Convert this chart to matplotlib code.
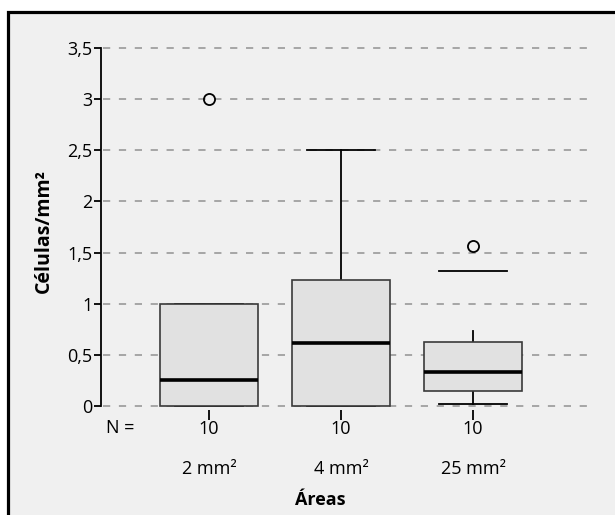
import matplotlib.pyplot as plt
from matplotlib.patches import Rectangle
from matplotlib.transforms import blended_transform_factory

plt.rcParams["font.family"] = ["Open Sans", "DejaVu Sans"]

# box summaries
areas = ["2 mm²", "4 mm²", "25 mm²"]
counts = [10, 10, 10]
q1 = [0.0, 0.0, 0.15]
medians = [0.25, 0.62, 0.335]
q3 = [1.0, 1.235, 0.63]
whisker_lo = [0.0, 0.0, 0.02]
whisker_hi = [1.0, 2.5, 0.735]
cap_hi = [1.0, 2.5, 1.315]
outliers = [[3.0], [], [1.565]]

y_ticks = [0, 0.5, 1, 1.5, 2, 2.5, 3, 3.5]
y_labels = ["0", "0,5", "1", "1,5", "2", "2,5", "3", "3,5"]

W, H = 615, 515
FS = 13
fig = plt.figure(figsize=(W / 100, H / 100), dpi=100)
fig.patch.set_facecolor("white")

# outer frame, only left and top edges inside the picture
frame = Rectangle((8 / W, -0.05), 1.2, 1 - 12 / H + 0.05, transform=fig.transFigure,
                  facecolor="#f0f0f0", edgecolor="black", linewidth=2.3,
                  clip_on=False, zorder=0)
fig.patches.append(frame)

ax = fig.add_axes([101 / W, 109 / H, 487 / W, 358 / H])
ax.set_zorder(2)
ax.patch.set_visible(False)

positions = [1, 2, 3]
stats = []
for i in range(3):
    stats.append(dict(med=medians[i], q1=q1[i], q3=q3[i],
                      whislo=whisker_lo[i], whishi=whisker_hi[i],
                      fliers=outliers[i], label=areas[i]))

for t in y_ticks:
    ax.hlines(t, 0.2, 3.871, colors="#a0a0a0", linestyles=(0, (4, 4.8)),
              linewidth=1.3, zorder=1, clip_on=False)

bp = ax.bxp(stats, positions=positions, widths=0.742, capwidths=0.52,
            patch_artist=True, manage_ticks=False,
            boxprops=dict(facecolor="#e1e1e1", edgecolor="#3a3a3a", linewidth=1.2),
            medianprops=dict(color="black", linewidth=2.6),
            whiskerprops=dict(color="black", linewidth=1.3),
            capprops=dict(color="black", linewidth=1.3),
            flierprops=dict(marker="o", markersize=8, markerfacecolor="none",
                            markeredgecolor="black", markeredgewidth=1.3))
for a in bp["whiskers"] + bp["caps"]:
    a.set_zorder(1.5)
    a.set_clip_on(False)
for a in bp["boxes"] + bp["medians"] + bp["fliers"]:
    a.set_zorder(2)
    a.set_clip_on(False)
for i, cap in enumerate(bp["caps"][1::2]):
    cap.set_ydata([cap_hi[i], cap_hi[i]])

ax.set_xlim(0.1818, 3.871)
ax.set_ylim(0, 3.5)
ax.set_yticks(y_ticks)
ax.set_yticklabels(y_labels, fontsize=FS)
ax.set_xticks(positions)
ax.set_xticklabels([])
ax.tick_params(axis="y", length=5, width=1.3, color="black", pad=1)
ax.tick_params(axis="x", length=7, width=1.3, color="black")

for s in ["top", "right"]:
    ax.spines[s].set_visible(False)
ax.spines["left"].set_linewidth(1.3)
ax.spines["bottom"].set_position(("outward", 3))
ax.spines["bottom"].set_visible(False)

trans = blended_transform_factory(ax.transData, ax.transAxes)
ax.text(0.33, -22 / 358, "N =", transform=trans, ha="center", va="center", fontsize=FS)
for p, n, name in zip(positions, counts, areas):
    ax.text(p, -23 / 358, str(n), transform=trans, ha="center", va="center", fontsize=FS)
    ax.text(p, -63 / 358, name, transform=trans, ha="center", va="center", fontsize=FS)

fig.text(320 / W, 1 - 500 / H, "Áreas", ha="center", va="center",
         fontsize=FS, fontweight="bold")
fig.text(44 / W, 1 - 231 / H, "Células/mm²", ha="center", va="center",
         rotation=90, fontsize=FS + 1, fontweight="bold")

fig.savefig("out.png", dpi=100)
